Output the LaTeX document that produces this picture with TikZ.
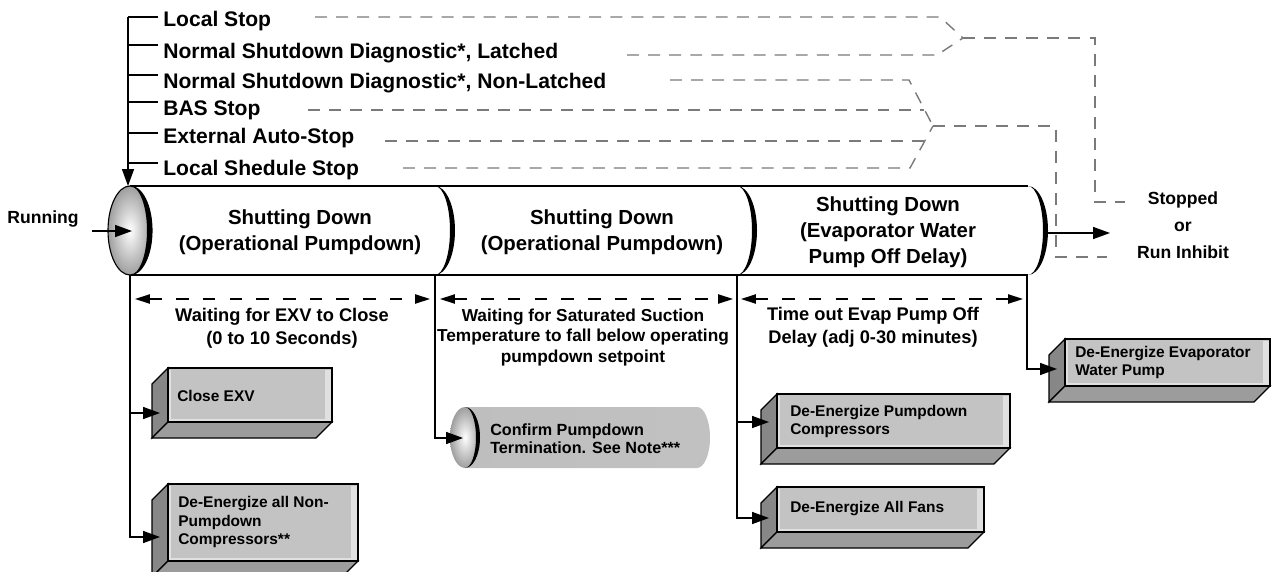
\documentclass[tikz,border=0pt]{standalone}
\usepackage{fontspec}
\setmainfont{Liberation Sans}
\usetikzlibrary{calc,positioning,arrows.meta}
\definecolor{lineGray}{HTML}{7A7A7A}
\definecolor{faceFront}{HTML}{C3C3C3}
\definecolor{faceSide}{HTML}{878787}
\definecolor{faceBottom}{HTML}{9C9C9C}
\definecolor{faceEdge}{HTML}{E0E0E0}

\pgfdeclarehorizontalshading{tubeBody}{100bp}{color(0bp)=(white); color(82bp)=(white); color(100bp)=(black!13)}
\pgfdeclarehorizontalshading{capsuleBody}{100bp}{color(0bp)=(black!26); color(86bp)=(black!24); color(95bp)=(black!6); color(100bp)=(black!28)}

% 3D action block: #1 name, #2 left, #3 top, #4 right, #5 bottom, #6 arrow y
\newcommand{\actionblock}[6]{%
  \filldraw[fill=faceSide, draw=black, line width=0.8pt]
    (#2-16,#3+16) -- (#2,#3) -- (#2,#5) -- (#2-16,#5+16) -- cycle;
  \filldraw[fill=faceBottom, draw=black, line width=0.8pt]
    (#2-16,#5+16) -- (#2,#5) -- (#4,#5) -- (#4-16,#5+16) -- cycle;
  \filldraw[fill=faceFront, draw=black, line width=0.8pt] (#2,#3) rectangle (#4,#5);
  \fill[faceEdge] (#4-7,#3+1.5) rectangle (#4-1.5,#5-1.5);
  \draw[faceEdge, line width=0.9pt] (#2+2,#3+2) -- (#2+2,#5-2) -- (#4-7,#5-2);
  \coordinate (#1) at (#2-8,#6);
}

\begin{document}
\begin{tikzpicture}[
  % pixel-like grid: x right, y down
  x=0.025cm, y=-0.025cm,
  tickLabel/.style={anchor=base west, inner sep=0pt,
    font=\fontsize{15}{17}\selectfont\bfseries},
  segTitle/.style={align=center, inner sep=0pt,
    font=\fontsize{14.5}{18.5}\selectfont\bfseries},
  dimLabel/.style={align=center, inner sep=0pt,
    font=\fontsize{13}{16}\selectfont\bfseries},
  boxLabel/.style={anchor=west, align=left, inner sep=0pt,
    font=\fontsize{11}{13.5}\selectfont\bfseries},
  stateLabel/.style={align=center, inner sep=0pt,
    font=\fontsize{12.5}{19}\selectfont\bfseries},
  flow/.style={line width=1pt, -{Triangle[length=12pt,width=8.5pt]}},
  dimArrow/.style={line width=1.1pt, dash pattern=on 9pt off 10pt,
    {Triangle[length=10.5pt,width=6.5pt]}-{Triangle[length=10.5pt,width=6.5pt]}},
  stopLine/.style={lineGray, line width=1pt, dash pattern=on 8.5pt off 6.5pt},
]
\useasboundingbox (0,0) rectangle (1272,572);

% --- Stop requests (left stem) ---
\node[tickLabel] (localStop)     at (163,27)  {Local Stop};
\node[tickLabel] (nsdLatched)    at (163,58)  {Normal Shutdown Diagnostic*, Latched};
\node[tickLabel] (nsdNonLatched) at (163,88)  {Normal Shutdown Diagnostic*, Non-Latched};
\node[tickLabel] (basStop)       at (163,115) {BAS Stop};
\node[tickLabel] (extStop)       at (163,143) {External Auto-Stop};
\node[tickLabel] (schedStop)     at (163,175) {Local Shedule Stop};

\coordinate (stemTop) at (128,17);
\coordinate (capTop)  at (128,186);
\foreach \lbl/\y in {localStop/17, nsdLatched/45, nsdNonLatched/75,
                     basStop/102, extStop/133, schedStop/163} {
  \draw[line width=1pt, shorten >=3.5pt] (128,\y) -- (\lbl.west |- 0,\y);
}
\draw[flow] (stemTop) -- (capTop);

% --- Stop requests (dashed, to the right) ---
\coordinate (joinA) at (963,38);
\coordinate (joinB) at (933,126);
\coordinate (stopInA) at (1125,202);
\coordinate (stopInB) at (1107,257);
\draw[stopLine] (315,17) -- (940,17) -- (joinA);
\draw[stopLine] (627,55) -- (937,55) -- (joinA);
\draw[stopLine] (joinA) -- (1095,38) -- (1095,202) -- (stopInA);
\draw[stopLine] (670,80) -- (909,80) -- (joinB);
\draw[stopLine] (308,110) -- (924,110);
\draw[stopLine] (385,141) -- (924,141);
\draw[stopLine] (403,168) -- (910,168) -- (joinB);
\draw[stopLine] (joinB) -- (1056,126) -- (1056,257) -- (stopInB);

\node[stateLabel] (stopped) at (1183,225) {Stopped\\or\\Run Inhibit};

% --- Shutdown tube ---
\foreach \L/\R in {737/1028, 435/737, 130/435} {
  \shade[shading=tubeBody] (\L,186) -- (\R,186)
    arc[start angle=-90, end angle=90, x radius=20, y radius=44.5] -- (\L,275) -- cycle;
}
\draw[line width=1.3pt] (130,186) -- (1028,186);
\draw[line width=1.3pt] (130,275) -- (1028,275);
\foreach \R in {435,737,1028} {
  \fill (\R,186) arc[start angle=-90, end angle=90, x radius=20, y radius=44.5]
    arc[start angle=90, end angle=-90, x radius=15, y radius=44.5] -- cycle;
}
\shade[inner color=white, outer color=black!38] (130,230.5) ellipse[x radius=22, y radius=44.5];
\draw[line width=0.8pt] (130,230.5) ellipse[x radius=22, y radius=44.5];
\fill (130,186) arc[start angle=-90, end angle=90, x radius=22, y radius=44.5]
  arc[start angle=90, end angle=-90, x radius=17, y radius=44.5] -- cycle;

\node[segTitle] (segPump)  at (300,232) {Shutting Down\\(Operational Pumpdown)};
\node[segTitle] (segSat)   at (602,232) {Shutting Down\\(Operational Pumpdown)};
\node[segTitle] (segEvap)  at (888,232) {Shutting Down\\(Evaporator Water\\Pump Off Delay)};

% --- In / out ---
\node[stateLabel] (running) at (43,219) {Running};
\coordinate (runFrom) at (92,231);
\coordinate (capMid)  at (132,231);
\draw[flow] (runFrom) -- (capMid);
\coordinate (tubeEnd) at (1048,233);
\coordinate (outTip)  at (1110,233);
\draw[flow] (tubeEnd) -- (outTip);

% --- Timing ---
\coordinate (b0) at (130,275);
\coordinate (b1) at (435,275);
\coordinate (b2) at (737,275);
\coordinate (b3) at (1027,275);
\draw[dimArrow] ($(b0)+(5,24)$) -- ($(b1)+(-5,24)$);
\draw[dimArrow] ($(b1)+(5,24)$) -- ($(b2)+(-4,24)$);
\draw[dimArrow] ($(b2)+(4,24)$) -- ($(b3)+(-4,24)$);

\node[dimLabel] (dimExv)  at (282,328.5) {Waiting for EXV to Close\\(0 to 10 Seconds)};
\node[dimLabel, font=\fontsize{12.3}{14.6}\selectfont\bfseries] (dimSat) at (583,337.5)
  {Waiting for Saturated Suction\\Temperature to fall below operating\\pumpdown setpoint};
\node[dimLabel] (dimEvap) at (873,327.5) {Time out Evap Pump Off\\Delay (adj 0-30 minutes)};

% --- Actions ---
\actionblock{exvIn}{168}{368}{332}{422}{413}
\node[boxLabel] (closeExv) at (177,396) {Close EXV};
\actionblock{nonpumpIn}{168}{484}{358}{561}{537}
\node[boxLabel] (nonPump) at (178,522) {De-Energize all Non-\\Pumpdown\\Compressors**};
\actionblock{pumpIn}{777}{394}{1010}{448}{422}
\node[boxLabel] (pumpComp) at (790,421.5) {De-Energize Pumpdown\\Compressors};
\actionblock{fansIn}{777}{487}{984}{532}{518}
\node[boxLabel] (allFans) at (790,509) {De-Energize All Fans};
\actionblock{evapIn}{1065}{339}{1270}{386}{369}
\node[boxLabel] (evapPump) at (1075,362.5) {De-Energize Evaporator\\Water Pump};

% confirm capsule
\shade[shading=capsuleBody] (465,407) -- (697,407)
  arc[start angle=-90, end angle=90, x radius=13, y radius=30.5] -- (465,468) -- cycle;
\shade[inner color=white, outer color=black!38] (465,437.5) ellipse[x radius=15, y radius=30.5];
\fill (465,407) arc[start angle=-90, end angle=90, x radius=15, y radius=30.5]
  arc[start angle=90, end angle=-90, x radius=11, y radius=30.5] -- cycle;
\coordinate (confirmIn) at (463,438);
\node[boxLabel, font=\fontsize{11.5}{12.8}\selectfont\bfseries] (confirm) at (490,439)
  {Confirm Pumpdown\\Termination. See Note***};

\draw[flow] (b0) |- (exvIn);
\draw[flow] (b0) |- (nonpumpIn);
\draw[flow] (b1) |- (confirmIn);
\draw[flow] (b2) |- (pumpIn);
\draw[flow] (b2) |- (fansIn);
\draw[flow] (b3) |- (evapIn);

\end{tikzpicture}
\end{document}
